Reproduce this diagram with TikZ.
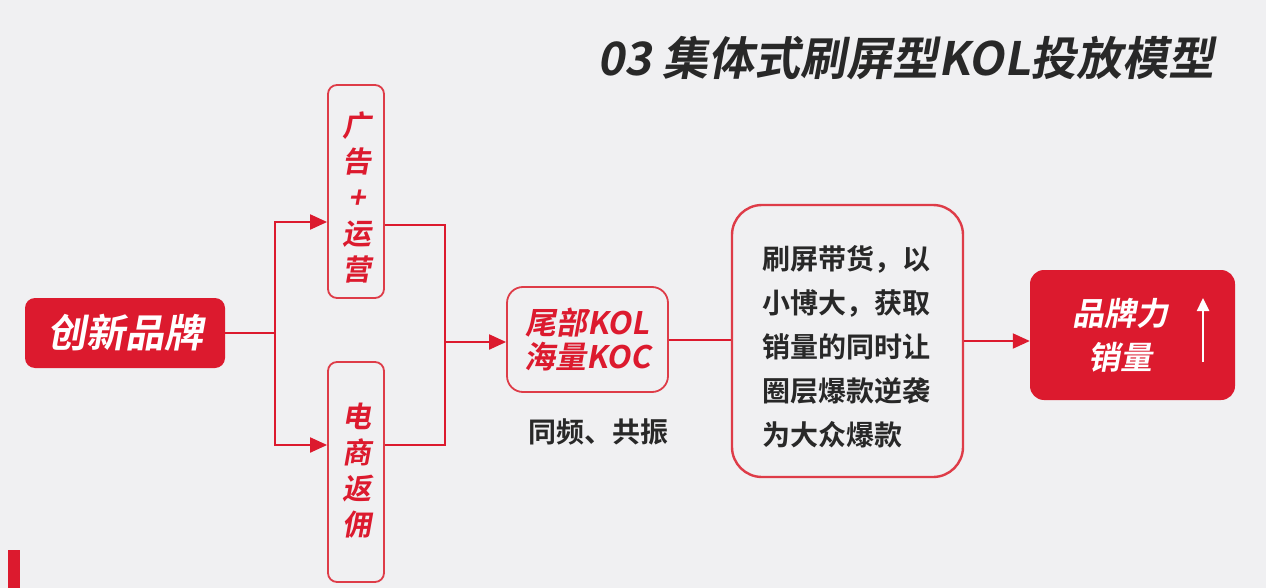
\documentclass[tikz,border=0pt]{standalone}
\usepackage{fontspec}
\usetikzlibrary{arrows.meta}
\newfontfamily\cjkb[UprightFont=* Bold]{Noto Sans CJK SC}
\newfontfamily\cjkbi[UprightFont=* Bold,FakeSlant=0.18]{Noto Sans CJK SC}
\definecolor{bg}{RGB}{240,240,242}
\definecolor{myred}{RGB}{220,26,46}
\definecolor{lred}{RGB}{222,60,72}
\definecolor{dark}{RGB}{40,40,40}
\tikzset{
  redbox/.style={fill=myred,draw=none,rounded corners=10pt,inner sep=0pt},
  linebox/.style={draw=lred,line width=1.8pt,rounded corners=9pt,inner sep=0pt,fill=none},
  conn/.style={draw=myred,line width=2pt},
  tip/.style={-{Triangle[length=17pt,width=15pt]}},
}
\begin{document}
\begin{tikzpicture}[x=1pt,y=-1pt]
\fill[bg] (0,0) rectangle (1266,588);
\useasboundingbox (0,0) rectangle (1266,588);

% title
\node[anchor=east,inner sep=0pt,text=dark,font=\cjkbi\fontsize{46}{50}\selectfont] (title) at (1215,58) {03 集体式刷屏型KOL投放模型};

% brand box
\node[redbox,minimum width=200pt,minimum height=70pt,text=white,font=\cjkbi\fontsize{39}{42}\selectfont] (brand) at (125,333) {创新品牌};

% two channel boxes
\node[linebox,minimum width=56pt,minimum height=213pt] (ad) at (356,191.5) {};
\node[inner sep=0pt,text=myred,align=center,font=\cjkbi\fontsize{29}{36}\selectfont] (adt) at (357,197) {广\\告\\+\\运\\营};
\node[linebox,minimum width=56pt,minimum height=220pt] (ec) at (356,472) {};
\node[inner sep=0pt,text=myred,align=center,font=\cjkbi\fontsize{29}{36}\selectfont] (ect) at (357,471) {电\\商\\返\\佣};

% KOL box
\node[linebox,minimum width=161pt,minimum height=105pt,rounded corners=16pt,text=myred,align=center,font=\cjkbi\fontsize{31}{34}\selectfont] (kol) at (587.5,339.5) {尾部KOL\\海量KOC};
\node[inner sep=0pt,text=dark,font=\cjkb\fontsize{28}{32}\selectfont] (res) at (598,432) {同频、共振};

% description box
\node[linebox,line width=2.4pt,minimum width=231pt,minimum height=272pt,rounded corners=30pt] (desc) at (847.5,341) {};
\node[anchor=west,inner sep=0pt,text=dark,align=left,font=\cjkb\fontsize{28}{44}\selectfont] (desct) at (762,347) {刷屏带货，以\\小博大，获取\\销量的同时让\\圈层爆款逆袭\\为大众爆款};

% result box
\node[redbox,minimum width=205pt,minimum height=130pt,rounded corners=14pt] (result) at (1132.5,335) {};
\node[inner sep=0pt,text=white,align=center,font=\cjkbi\fontsize{32}{44}\selectfont] (resultt) at (1120,335) {品牌力\\销量};
\coordinate (upa) at (1203,362);
\coordinate (upb) at (1203,298);
\draw[white,line width=2.5pt,-{Triangle[length=13pt,width=12pt]}] (upa) -- (upb);

% connectors
\coordinate (split) at (275,333);
\coordinate (merge) at (445,342);
\draw[conn] (brand.east) -- (split);
\draw[conn,tip] (split) |- ([yshift=-30.5pt]ad.west);
\draw[conn,tip] (split) |- ([yshift=27pt]ec.west);
\draw[conn] ([yshift=-33.5pt]ad.east) -| (merge);
\draw[conn] ([yshift=27pt]ec.east) -| (merge);
\draw[conn,tip] (merge) -- (kol.west |- merge);
\draw[conn] (kol.east) -- (desc.west |- kol.east);
\draw[conn,tip] (desc.east) -- (desc.east -| result.west);

% bottom-left bar
\fill[myred] (8,550) rectangle (20,588);
\end{tikzpicture}
\end{document}
